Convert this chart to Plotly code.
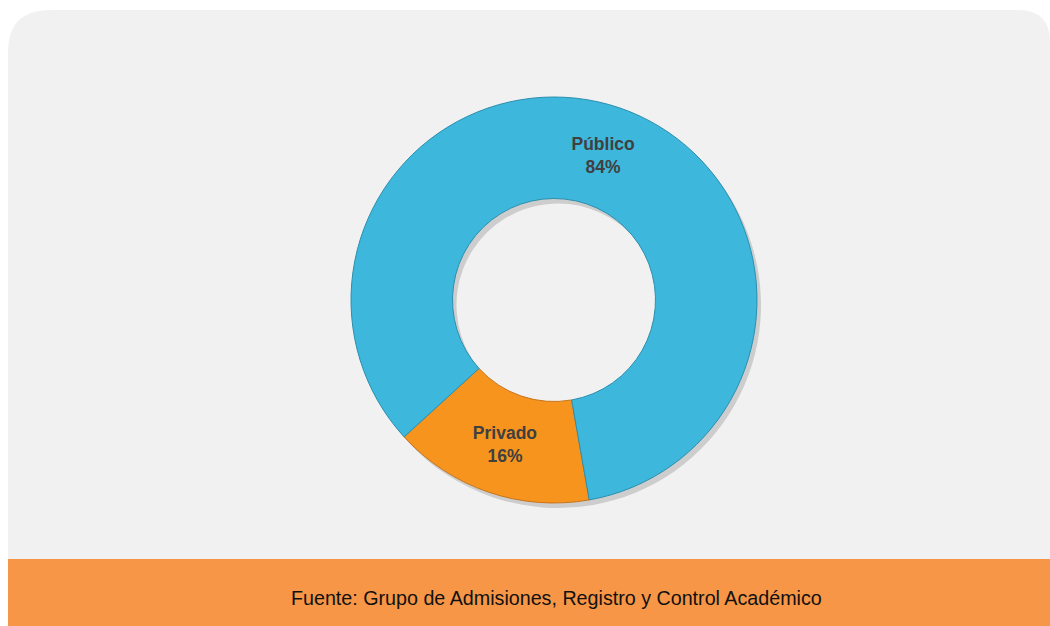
import plotly.graph_objects as go

labels = ["Privado", "Público"]
values = [16, 84]
colors = ["#F7941E", "#3DB7DC"]
line_colors = ["#C8741A", "#2B8FAE"]
source_text = "Fuente: Grupo de Admisiones, Registro y Control Académico"

W, H = 1050, 626


def px(x):
    return x / W


def py(y):
    return 1 - y / H


# panel path with rounded top corners
x0, x1, y0, y1 = 8, 1050, 10, 626
rl, rr = 42, 32
panel_path = (
    f"M {px(x0)},{py(y1)} "
    f"L {px(x0)},{py(y0 + rl)} "
    f"Q {px(x0)},{py(y0)} {px(x0 + rl)},{py(y0)} "
    f"L {px(x1 - rr)},{py(y0)} "
    f"Q {px(x1)},{py(y0)} {px(x1)},{py(y0 + rr)} "
    f"L {px(x1)},{py(y1)} Z"
)

cx, cy, r = 554, 300, 203
dom_x = [px(cx - r), px(cx + r)]
dom_y = [py(cy + r), py(cy - r)]
sx, sy = 4, 5
shadow_x = [px(cx - r + sx), px(cx + r + sx)]
shadow_y = [py(cy + r + sy), py(cy - r + sy)]

fig = go.Figure()

# soft shadow
fig.add_trace(go.Pie(
    labels=labels, values=values, hole=0.5, sort=False,
    direction="clockwise", rotation=170,
    marker=dict(colors=["rgba(0,0,0,0.15)"] * 2, line=dict(width=0)),
    textinfo="none", hoverinfo="skip", showlegend=False,
    domain=dict(x=shadow_x, y=shadow_y),
))

fig.add_trace(go.Pie(
    labels=labels, values=values, hole=0.5, sort=False,
    direction="clockwise", rotation=170,
    marker=dict(colors=colors, line=dict(color=line_colors, width=1)),
    texttemplate="<b>%{label}<br>%{percent:.0%}</b>",
    textposition="inside", insidetextorientation="horizontal",
    textfont=dict(family="Liberation Sans, Arial, sans-serif", size=17.5, color="#404040"),
    showlegend=False,
    domain=dict(x=dom_x, y=dom_y),
))

fig.update_layout(
    width=W, height=H,
    margin=dict(l=0, r=0, t=0, b=0),
    paper_bgcolor="white",
    plot_bgcolor="white",
    shapes=[
        dict(type="path", xref="paper", yref="paper", path=panel_path,
             fillcolor="#F1F1F1", line=dict(width=0), layer="below"),
        dict(type="rect", xref="paper", yref="paper",
             x0=px(8), x1=px(1050), y0=py(626), y1=py(559),
             fillcolor="#F79646", line=dict(width=0), layer="below"),
    ],
    annotations=[
        dict(text=source_text, xref="paper", yref="paper",
             x=px(556), y=py(598), showarrow=False,
             xanchor="center", yanchor="middle",
             font=dict(family="Liberation Sans, Arial, sans-serif", size=19.7, color="#111111")),
    ],
)

fig.write_html(
    "out.html",
    config={"displayModeBar": False},
    post_script="document.body.style.margin='0';document.body.style.overflow='hidden';",
)
